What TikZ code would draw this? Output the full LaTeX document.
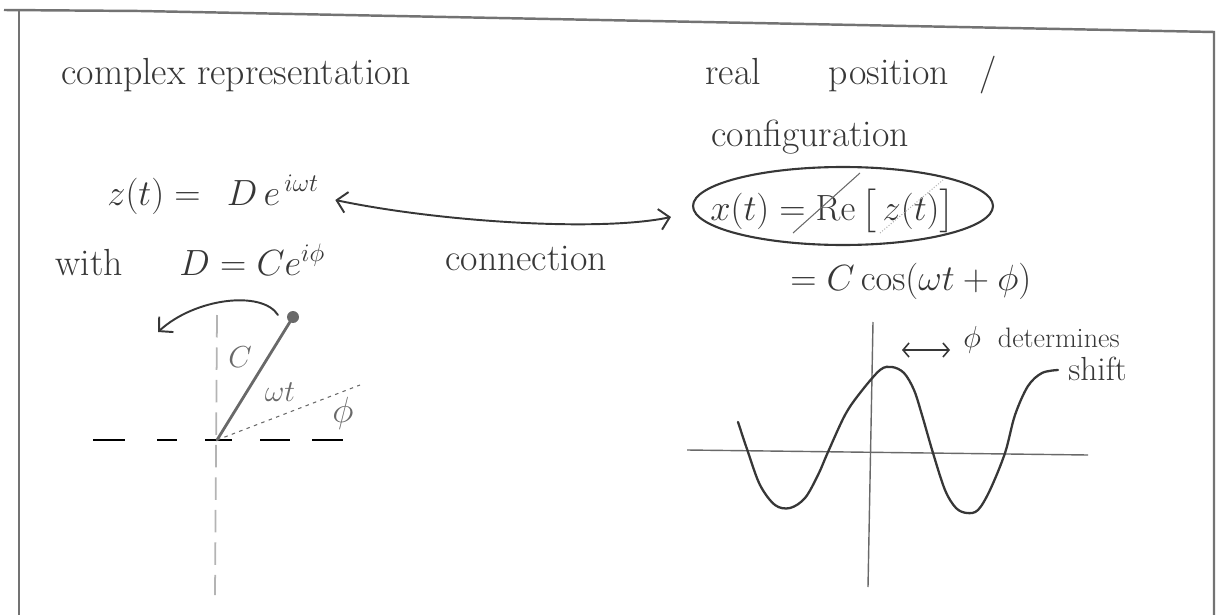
\documentclass[tikz,border=0pt]{standalone}
\usepackage{amsmath}
\usepackage{tikz}
\usetikzlibrary{arrows.meta, shapes.geometric}
\definecolor{inkdark}{RGB}{55,55,55}
\definecolor{inkgray}{RGB}{105,105,105}
\definecolor{inklight}{RGB}{180,180,180}
\definecolor{sheetgray}{RGB}{115,115,115}
\tikzset{
  hand/.style={anchor=base west, inner sep=0pt, text=inkdark,
    font=\fontsize{21.5}{25}\selectfont},
  handsmall/.style={inner sep=0pt, text=inkgray,
    font=\fontsize{16}{19}\selectfont},
  handnote/.style={anchor=base west, inner sep=0pt, text=inkdark,
    font=\fontsize{16}{19}\selectfont},
  ink/.style={color=inkdark, line width=1.1pt, line cap=round},
  sheet/.style={color=sheetgray, line width=1.4pt},
  ring/.style={ellipse, draw=inkdark, line width=1.2pt,
    minimum width=6.0cm, minimum height=1.56cm},
  vec/.style={color=inkgray, line width=1.6pt, line cap=round},
  realaxis/.style={color=black, line width=1.3pt},
  imagaxis/.style={color=inklight, line width=1pt, dash pattern=on 0.45cm off 0.2cm},
  thinaxis/.style={color=inkgray, line width=0.8pt}
}

\begin{document}
\begin{tikzpicture}[x=0.02cm, y=-0.02cm,
    >={Straight Barb[length=0.2cm, width=0.42cm]}]
  \useasboundingbox (0,0) rectangle (1220,615);
  % sheet border
  \draw[sheet] (19,615) -- (19,10);
  \draw[sheet] (4,10) -- (140,11) -- (1214,32) -- (1214,615);

  % headings
  \node[hand] (cplx) at (61,85) {complex representation};
  \node[hand] (real) at (705,85) {real \hspace{1.5em}position\hspace{0.8em}/};
  \node[hand] (conf) at (711,147) {configuration};

  % complex side
  \node[hand] (zt) at (107,205) {$z(t) = \;\, D\,e^{\,i\omega t}$};
  \node[hand] (with) at (55,275) {with \hspace{1.2em}$D = C e^{i\phi}$};
  \node[hand] (conn) at (445,270) {connection};

  % real side
  \node[ring] (ring) at (843,206) {};
  \node[hand] (xt) at (710,220) {$x(t) = \mathrm{Re}\,\bigl[\,z(t)\bigr]$};
  \draw[inkgray, line width=0.6pt] (793,233) -- (860,173);
  \draw[inklight, line width=0.6pt, densely dotted] (880,233) -- (943,180);
  \node[hand] (cos) at (790,290) {$= C\cos(\omega t + \phi)$};

  % connection arrow
  \draw[ink, <->] ([shift={(16,-5)}]zt.base east) .. controls (440,222) and (600,232)
       .. ([shift={(-21,11)}]ring.west);

  % phasor
  \coordinate (O) at (217,440);
  \coordinate (tip) at (293,317);
  \draw[imagaxis] (217,315) -- (215,595);
  \foreach \a/\b in {93/125, 157/177, 205/232, 260/290, 312/343}
    \draw[realaxis] (\a,440) -- (\b,440);
  \draw[inkgray, line width=0.6pt, dash pattern=on 2pt off 2.5pt] (O) -- (360,385);
  \draw[vec] (O) -- (tip);
  \fill[inkgray] (tip) circle[radius=0.12cm];
  \draw[ink, ->] (278,315) .. controls (262,290) and (195,298) .. (158,332);
  \node[handsmall] (clab) at (240,357) {$C$};
  \node[handsmall] (wt) at (280,392) {$\omega t$};
  \node[handsmall, font=\fontsize{20}{24}\selectfont] (phi) at (343,413) {$\phi$};

  % cosine
  \draw[thinaxis] (687,450) -- (1088,455);
  \draw[thinaxis] (873,322) -- (868,587);
  \draw[ink, line width=1.3pt] plot[smooth, tension=0.55] coordinates {
    (738,422) (748,452) (760,485) (775,505) (790,508) (805,498) (818,475)
    (828,452) (845,415) (860,393) (880,370) (892,367) (904,373) (914,390)
    (922,415) (933,453) (945,490) (956,508) (967,513) (978,510) (990,490)
    (1005,453) (1015,415) (1028,386) (1042,373) (1058,370)};
  \coordinate (sl) at (902,350);
  \coordinate (sr) at (950,350);
  \draw[ink, line width=0.9pt, >={Straight Barb[length=0.12cm, width=0.28cm]}, <->]
       (sl) -- (sr);
  \node[handnote] (det) at (963,347) {$\phi$\ \ determines};
  \node[handnote, font=\fontsize{19}{22}\selectfont] (shift) at (1068,380) {shift};
\end{tikzpicture}
\end{document}
